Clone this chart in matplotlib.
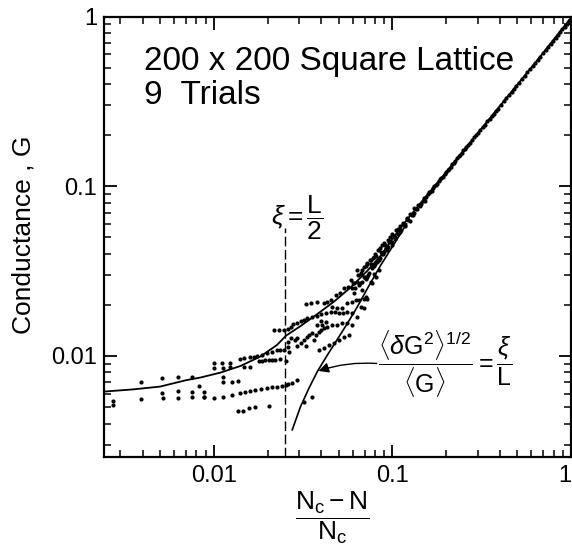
import matplotlib

matplotlib.use("Agg")
import matplotlib.pyplot as plt
from matplotlib.ticker import FixedLocator, NullFormatter, LogLocator


# dashed marker at xi = L/2
XI_HALF = 0.025

# data (N_c - N)/N_c vs conductance G, 9 trials pooled
SPARSE_X = [0.00274, 0.00274, 0.00392, 0.00392, 0.00511, 0.00511, 0.00520, 0.00630, 0.00630, 0.00630,
            0.00754, 0.00754, 0.00754, 0.00822, 0.00877]
SPARSE_Y = [0.00546, 0.00515, 0.00706, 0.00558, 0.00740, 0.00608, 0.00563, 0.00750, 0.00625, 0.00563,
            0.00755, 0.00617, 0.00577, 0.00661, 0.00577]

NEAR_X = [0.00998, 0.00998, 0.01111, 0.01127, 0.01240, 0.01240, 0.01127, 0.01127, 0.01265, 0.01361,
          0.01396, 0.01472, 0.01472, 0.01590, 0.01590, 0.01674, 0.01748, 0.01786, 0.01865, 0.01865,
          0.01947, 0.02033, 0.02122, 0.02215, 0.02363, 0.02522, 0.01991, 0.02122, 0.02262, 0.02363,
          0.02468, 0.02600, 0.02631]
NEAR_Y = [0.00914, 0.00846, 0.00914, 0.00846, 0.00914, 0.00866, 0.00755, 0.00706, 0.00706, 0.00713,
          0.00955, 0.00969, 0.00866, 0.00982, 0.00866, 0.00991, 0.01000, 0.00935, 0.01010, 0.00935,
          0.00947, 0.00947, 0.00947, 0.00947, 0.00955, 0.00939, 0.01040, 0.01060, 0.01080, 0.01080,
          0.01090, 0.01135, 0.01060]

LOW_X = [0.00877, 0.00877, 0.00998, 0.01127, 0.01265, 0.01396, 0.01503, 0.01603, 0.01710, 0.01841,
         0.01991, 0.02122, 0.02262, 0.02415, 0.02522, 0.02600, 0.02748, 0.02932,
         0.01361, 0.01458, 0.01570, 0.01710, 0.02033, 0.03196, 0.03562]
LOW_Y = [0.00617, 0.00577, 0.00569, 0.00577, 0.00590, 0.00603, 0.00617, 0.00622, 0.00631, 0.00637,
         0.00645, 0.00654, 0.00660, 0.00666, 0.00675, 0.00684, 0.00690, 0.00722,
         0.00477, 0.00477, 0.00492, 0.00503, 0.00510, 0.00539, 0.00577]

UPPER_X = [0.02188, 0.02312, 0.02468, 0.02600, 0.02690, 0.02785, 0.02932, 0.03062, 0.03196, 0.03338,
           0.03562, 0.03801, 0.04004, 0.04235, 0.04518, 0.04758, 0.05032, 0.05322, 0.05600, 0.05972,
           0.06376,
           0.02600, 0.02690, 0.02834, 0.02932, 0.03062, 0.03196, 0.03311, 0.03411, 0.03562, 0.03719,
           0.03885, 0.03970, 0.04145, 0.04328, 0.04617, 0.04925, 0.05253, 0.05600, 0.05972, 0.02932,
           0.03267, 0.03641,
           0.03267, 0.03487, 0.03801, 0.04145, 0.04328, 0.04518, 0.04820, 0.05097, 0.05368, 0.05649,
           0.04617, 0.04925, 0.05253, 0.05600, 0.05972, 0.06233, 0.06520, 0.06950, 0.07250,
           0.03885, 0.04145, 0.04422, 0.04717, 0.05032, 0.05368, 0.05724,
           0.05972, 0.06100, 0.06376, 0.06520, 0.06800, 0.07096, 0.06657, 0.06950, 0.07096,
           0.03970, 0.04235, 0.03801, 0.04057,
           0.06376, 0.06657, 0.06950, 0.07250, 0.07570, 0.07910, 0.07250, 0.07570, 0.07910, 0.06800,
           0.07740, 0.08080, 0.08440, 0.06100, 0.05850]
UPPER_Y = [0.0142, 0.0142, 0.0142, 0.0145, 0.0149, 0.0154, 0.0157, 0.0161, 0.0164, 0.0167,
           0.0170, 0.0172, 0.0177, 0.0178, 0.0181, 0.0182, 0.0180, 0.0178, 0.0182, 0.0178,
           0.0170,
           0.0121, 0.0127, 0.0124, 0.0127, 0.0119, 0.0124, 0.0130, 0.0133, 0.0136, 0.0133,
           0.0139, 0.0142, 0.0146, 0.0149, 0.0152, 0.0152, 0.0156, 0.0156, 0.0152, 0.0115,
           0.0115, 0.0124,
           0.0202, 0.0204, 0.0209, 0.0204, 0.0209, 0.0213, 0.0229, 0.0234, 0.0250, 0.0254,
           0.0195, 0.0191, 0.0191, 0.0204, 0.0209, 0.0213, 0.0215, 0.0218, 0.0218,
           0.0109, 0.0111, 0.0116, 0.0119, 0.0124, 0.0130, 0.0133,
           0.0250, 0.0268, 0.0274, 0.0262, 0.0274, 0.0286, 0.0195, 0.0191, 0.0223,
           0.0161, 0.0159, 0.0152, 0.0152,
           0.0321, 0.0306, 0.0335, 0.0351, 0.0367, 0.0384, 0.0293, 0.0274, 0.0306, 0.0244,
           0.0268, 0.0293, 0.0321, 0.0234, 0.0280]

BAND_X = [0.068, 0.070, 0.072, 0.074, 0.075, 0.077, 0.078, 0.080, 0.080, 0.082,
          0.083, 0.085, 0.085, 0.087, 0.088, 0.090, 0.090, 0.092, 0.094, 0.095,
          0.097, 0.098, 0.100, 0.100, 0.103, 0.105, 0.107, 0.110, 0.112, 0.115,
          0.117, 0.120, 0.123, 0.126, 0.130, 0.133, 0.137, 0.140, 0.145, 0.150,
          0.155, 0.160, 0.166, 0.172, 0.178, 0.185, 0.192, 0.200, 0.208, 0.216,
          0.225, 0.235, 0.245, 0.255, 0.265, 0.280, 0.295, 0.310, 0.330, 0.350,
          0.370, 0.390, 0.420, 0.450, 0.480, 0.510, 0.550, 0.590, 0.630, 0.670,
          0.720, 0.770, 0.820, 0.870, 0.920, 0.970]
BAND_Y = [0.032, 0.029, 0.035, 0.031, 0.037, 0.033, 0.038, 0.035, 0.040, 0.036,
          0.042, 0.038, 0.043, 0.040, 0.045, 0.041, 0.046, 0.043, 0.048, 0.044,
          0.050, 0.047, 0.052, 0.047, 0.050, 0.055, 0.052, 0.058, 0.055, 0.061,
          0.059, 0.065, 0.063, 0.069, 0.068, 0.074, 0.073, 0.078, 0.079, 0.085,
          0.086, 0.092, 0.094, 0.101, 0.103, 0.111, 0.114, 0.122, 0.127, 0.135,
          0.140, 0.150, 0.157, 0.166, 0.175, 0.187, 0.200, 0.214, 0.231, 0.250,
          0.268, 0.287, 0.316, 0.346, 0.375, 0.406, 0.448, 0.490, 0.534, 0.578,
          0.635, 0.692, 0.751, 0.811, 0.871, 0.933]

DENSE_X = [0.060, 0.062, 0.064, 0.066, 0.067, 0.069, 0.071, 0.073, 0.076, 0.079,
           0.081, 0.084, 0.086, 0.089, 0.091, 0.093, 0.096, 0.099, 0.102, 0.104,
           0.108, 0.111, 0.114, 0.118, 0.121, 0.125, 0.128, 0.132, 0.135, 0.142,
           0.148, 0.152, 0.158, 0.163, 0.169, 0.175, 0.182, 0.188, 0.196, 0.204,
           0.212, 0.220, 0.230, 0.240, 0.250, 0.260, 0.272, 0.288, 0.302, 0.320,
           0.340, 0.360, 0.380, 0.405, 0.435, 0.465, 0.495, 0.530, 0.570, 0.610,
           0.650, 0.695, 0.745, 0.795, 0.845, 0.895, 0.945, 0.990]
DENSE_Y = [0.027, 0.025, 0.030, 0.027, 0.031, 0.029, 0.034, 0.030, 0.035, 0.034,
           0.039, 0.037, 0.041, 0.040, 0.045, 0.042, 0.047, 0.045, 0.051, 0.049,
           0.056, 0.054, 0.060, 0.058, 0.064, 0.062, 0.068, 0.070, 0.073, 0.077,
           0.082, 0.082, 0.090, 0.092, 0.098, 0.102, 0.107, 0.112, 0.118, 0.125,
           0.130, 0.137, 0.146, 0.152, 0.163, 0.170, 0.180, 0.194, 0.206, 0.222,
           0.241, 0.259, 0.278, 0.300, 0.330, 0.360, 0.392, 0.428, 0.470, 0.512,
           0.556, 0.607, 0.664, 0.722, 0.781, 0.842, 0.902, 0.960]

# finite-size curve (upper) and the <dG^2>^1/2/<G> = xi/L curve (lower)
UPPER_CURVE_X = [0.00243, 0.0035, 0.0050, 0.0070, 0.0084, 0.0109, 0.0141, 0.0182, 0.0226, 0.0254,
                 0.0306, 0.0380, 0.0471, 0.0585, 0.0725, 0.0861, 0.100, 0.120, 0.150, 0.200,
                 0.300, 0.500, 0.700, 1.0]
UPPER_CURVE_Y = [0.00617, 0.00635, 0.0066, 0.0072, 0.00746, 0.00798, 0.00873, 0.00991, 0.01161, 0.01318,
                 0.0150, 0.01766, 0.0209, 0.0254, 0.0318, 0.0390, 0.0490, 0.0630, 0.0840, 0.121,
                 0.205, 0.396, 0.612, 0.985]
LOWER_CURVE_X = [0.0275, 0.0306, 0.0341, 0.0380, 0.0433, 0.0492, 0.0560, 0.0637, 0.0725, 0.0861, 0.100, 0.120]
LOWER_CURVE_Y = [0.00367, 0.00503, 0.00645, 0.00809, 0.01014, 0.01253, 0.01556, 0.0195, 0.0250, 0.0343, 0.0440, 0.0600]

ARROW_TAIL = (0.0818, 0.00903)
ARROW_TIP = (0.0386, 0.00816)

X_TICKS = [0.01, 0.1, 1.0]
X_TICK_LABELS = ["0.01", "0.1", "1"]
Y_TICKS = [0.01, 0.1, 1.0]
Y_TICK_LABELS = ["0.01", "0.1", "1"]


def style():
    plt.rcParams.update(
        {
            "font.family": ["Liberation Sans", "DejaVu Sans"],
            "mathtext.fontset": "custom",
            "mathtext.rm": "Liberation Sans",
            "mathtext.it": "Liberation Sans:italic",
            "mathtext.sf": "Liberation Sans",
            "xtick.direction": "in",
            "ytick.direction": "in",
            "xtick.top": True,
            "ytick.right": True,
        }
    )


def draw():
    style()
    fig = plt.figure(figsize=(5.72, 5.46), dpi=100)
    ax = fig.add_axes([104 / 572, 89 / 546, 467 / 572, 440.5 / 546])
    ax.set_xscale("log")
    ax.set_yscale("log")
    ax.set_xlim(0.00243, 1.0)
    ax.set_ylim(0.00254, 1.0)

    dot = dict(linestyle="None", marker="o", markersize=3.0, color="black", markeredgewidth=0)
    for xs, ys in [(SPARSE_X, SPARSE_Y), (NEAR_X, NEAR_Y), (LOW_X, LOW_Y),
                   (UPPER_X, UPPER_Y), (BAND_X, BAND_Y), (DENSE_X, DENSE_Y)]:
        ax.plot(xs, ys, **dot)

    ax.plot(UPPER_CURVE_X, UPPER_CURVE_Y, color="black", lw=1.3)
    ax.plot(LOWER_CURVE_X, LOWER_CURVE_Y, color="black", lw=1.2)
    ax.plot([XI_HALF, XI_HALF], [0.00254, 0.0567], color="black", lw=1.0, linestyle=(0, (7, 2.5)))

    ax.annotate(
        "",
        xy=ARROW_TIP,
        xytext=ARROW_TAIL,
        arrowprops=dict(arrowstyle="-|>", connectionstyle="arc3,rad=0.1", color="black",
                        lw=1.0, mutation_scale=15, shrinkA=0, shrinkB=0),
    )

    ax.text(0.0295, 0.0655, r"$\xi = \dfrac{\mathrm{L}}{\mathrm{2}}$", ha="center", va="center", fontsize=19)
    ax.text(0.197, 0.00897,
            r"$\dfrac{\langle \delta \mathrm{G}^{2} \rangle^{1/2}}{\langle \mathrm{G} \rangle} = \dfrac{\xi}{\mathrm{L}}$",
            ha="center", va="center", fontsize=18)

    ax.text(0.0857, 0.879, "200 x 200 Square Lattice", transform=ax.transAxes, fontsize=24, va="baseline")
    ax.text(0.0857, 0.801, "9  Trials", transform=ax.transAxes, fontsize=24, va="baseline")

    ax.xaxis.set_major_locator(FixedLocator(X_TICKS))
    ax.set_xticklabels(X_TICK_LABELS)
    ax.yaxis.set_major_locator(FixedLocator(Y_TICKS))
    ax.set_yticklabels(Y_TICK_LABELS)
    ax.get_xticklabels()[-1].set_ha("right")
    ax.xaxis.set_minor_locator(LogLocator(base=10, subs=range(2, 10)))
    ax.yaxis.set_minor_locator(LogLocator(base=10, subs=range(2, 10)))
    ax.xaxis.set_minor_formatter(NullFormatter())
    ax.yaxis.set_minor_formatter(NullFormatter())
    ax.tick_params(which="major", length=9, width=1.3, labelsize=17)
    ax.tick_params(which="minor", length=5, width=1.1)
    ax.tick_params(axis="x", which="major", pad=6)
    ax.tick_params(axis="y", which="major", pad=5)
    for sp in ax.spines.values():
        sp.set_linewidth(1.6)

    ax.set_ylabel("Conductance , G", fontsize=19, va="center")
    ax.yaxis.set_label_coords(-0.173, 0.504)
    ax.set_xlabel(r"$\dfrac{\mathrm{N_c - N}}{\mathrm{N_c}}$", fontsize=19, va="center")
    ax.xaxis.set_label_coords(0.488, -0.138)

    fig.savefig("out.png", dpi=100)
    plt.close(fig)


def main():
    draw()


if __name__ == "__main__":
    main()
